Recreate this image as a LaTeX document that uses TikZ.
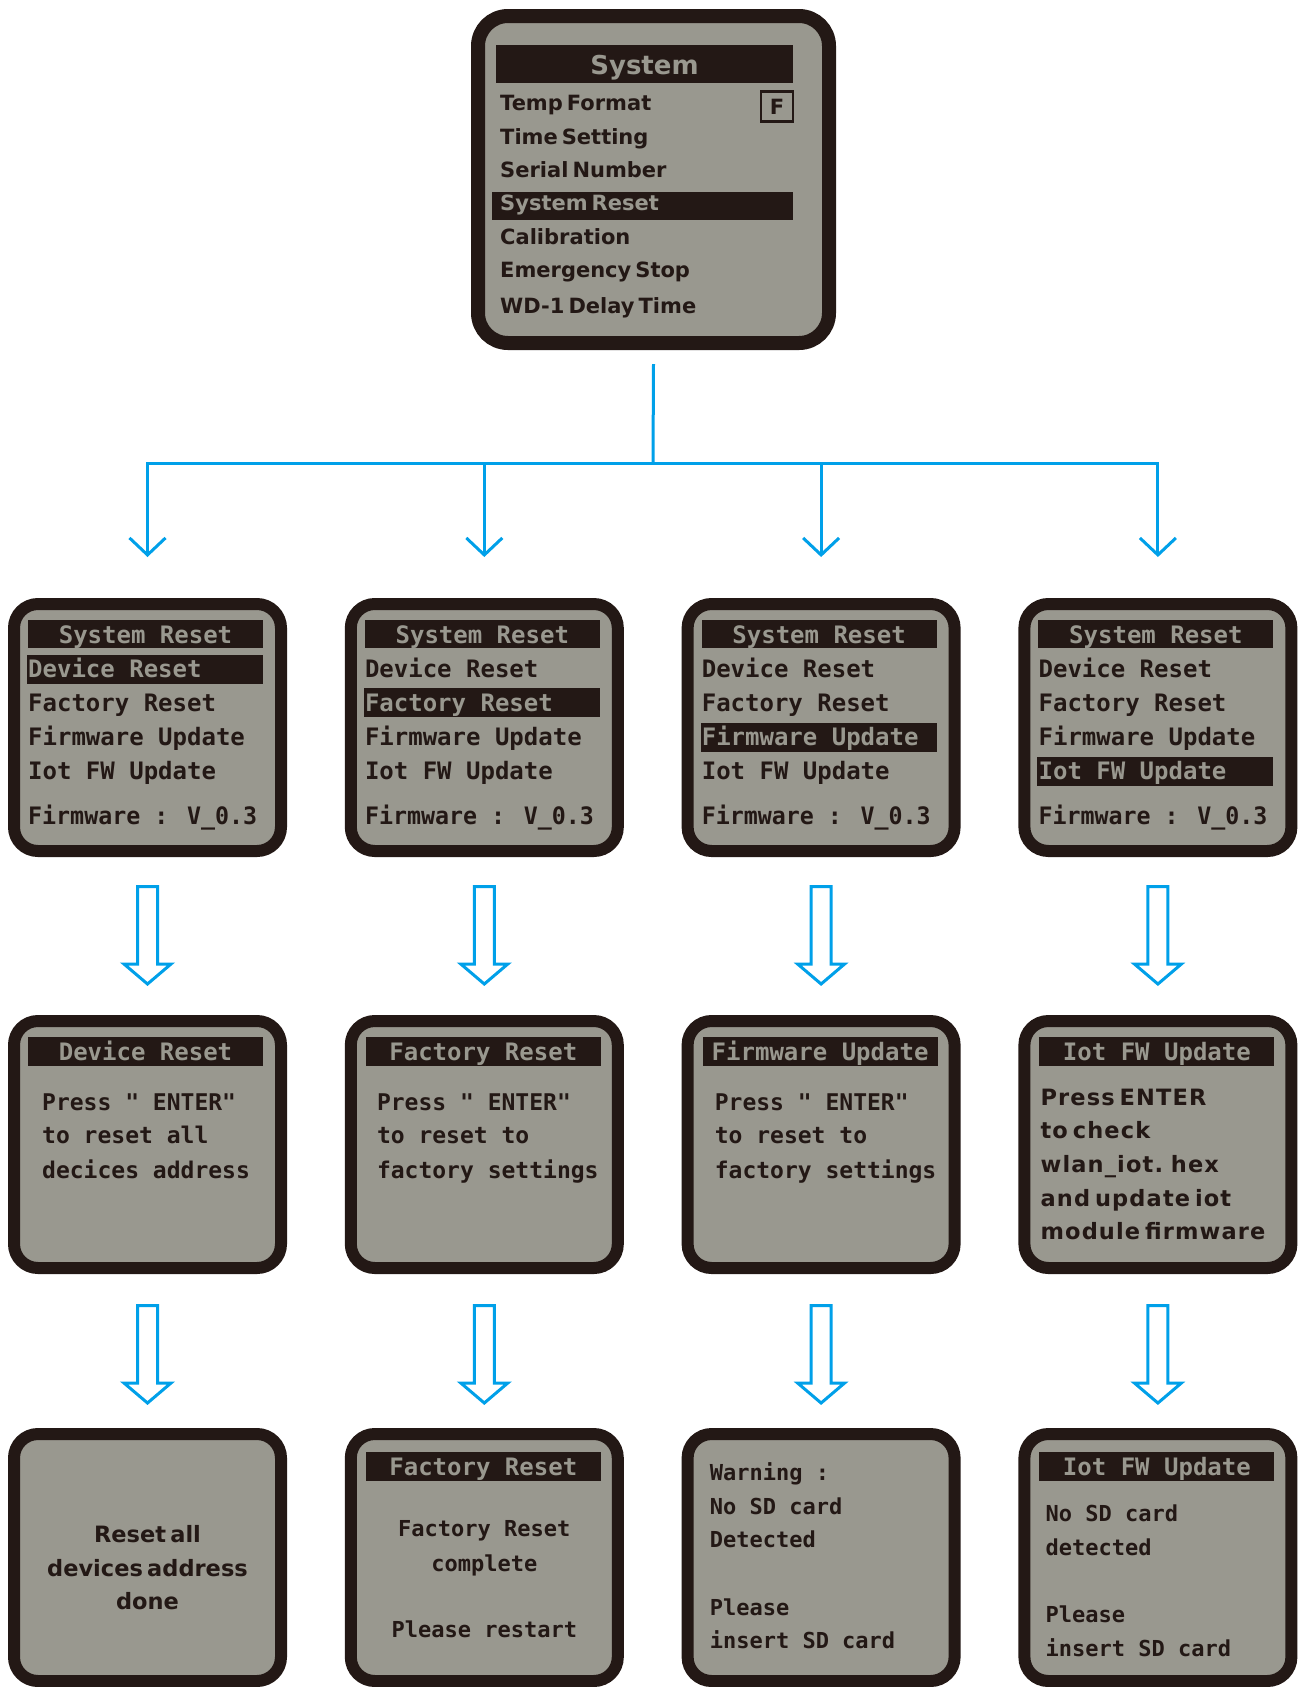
\documentclass[tikz,border=0pt]{standalone}
\usepackage{fontspec}
\usetikzlibrary{arrows.meta,calc}
\newfontfamily\lcdmono{DejaVu Sans Mono Bold}
\newfontfamily\lcdsans[WordSpace=0.55]{DejaVu Sans}
\newfontfamily\lcdsanswide[WordSpace=0.55,LetterSpace=5]{DejaVu Sans}
\definecolor{lcdgrey}{RGB}{153,152,143}
\definecolor{lcdink}{RGB}{35,24,21}
\definecolor{flowblue}{RGB}{0,160,233}

\tikzset{
  screen/.style={draw=lcdink, fill=lcdgrey, line width=12pt, rounded corners=24pt,
    minimum width=267pt, minimum height=247pt, inner sep=0pt},
  bigscreen/.style={screen, line width=14pt, rounded corners=30pt,
    minimum width=351pt, minimum height=327pt},
  mono/.style={font=\lcdmono\fontsize{24}{24}\selectfont, text=lcdink,
    inner sep=0pt, anchor=base west},
  monomid/.style={font=\lcdmono\fontsize{23}{23}\selectfont, text=lcdink,
    inner sep=0pt, anchor=base west},
  monosmall/.style={font=\lcdmono\fontsize{22}{22}\selectfont, text=lcdink,
    inner sep=0pt, anchor=base west},
  prop/.style={font=\lcdsans\bfseries\fontsize{21}{21}\selectfont, text=lcdink,
    inner sep=0pt, anchor=base west},
  propbig/.style={font=\lcdsans\bfseries\fontsize{22.5}{22.5}\selectfont, text=lcdink,
    inner sep=0pt, anchor=base west},
  propwide/.style={font=\lcdsanswide\bfseries\fontsize{22.5}{22.5}\selectfont, text=lcdink,
    inner sep=0pt, anchor=base west},
  lit/.style={text=lcdgrey},
  mid/.style={anchor=base},
  trunk/.style={draw=flowblue, line width=3pt},
  conn/.style={draw=flowblue, line width=3pt, -{Straight Barb[length=17pt,width=36pt]}},
  hollow/.style={draw=flowblue, fill=white, line width=3pt, line join=miter},
  downblock/.pic={
    \draw[hollow] (-10,1.5) -- (-10,79) -- (-23.5,79) -- (0,99) -- (23.5,79)
      -- (10,79) -- (10,1.5) -- cycle;
  },
}

\begin{document}
\begin{tikzpicture}[x=1pt,y=-1pt]
\useasboundingbox (0,0) rectangle (1300,1687);

% ---------- main System menu ----------
\node[bigscreen] (sys) at (653.5,179.5) {};
\begin{scope}[shift={(471,9)}]
  \fill[lcdink] (25,36) rectangle (322,74);
  \node[prop,lit,mid,font=\lcdsans\bfseries\fontsize{26}{26}\selectfont] (sys-title) at (173.5,65.5) {System};
  \fill[lcdink] (21,183) rectangle (322,211);
  \node[prop] (sys-1) at (29,101.5) {Temp Format};
  \node[prop] (sys-2) at (29,135.5) {Time Setting};
  \node[prop] (sys-3) at (29,168.5) {Serial Number};
  \node[prop,lit] (sys-4) at (29,201.5) {System Reset};
  \node[prop] (sys-5) at (29,235.5) {Calibration};
  \node[prop] (sys-6) at (29,268.5) {Emergency Stop};
  \node[prop] (sys-7) at (29,304.5) {WD-1 Delay Time};
  \node[draw=lcdink, line width=2.5pt, minimum width=32pt, minimum height=30pt, inner sep=0pt,
        font=\lcdsans\bfseries\fontsize{21}{21}\selectfont, text=lcdink] (fmt) at (306,97.5) {F};
\end{scope}

% ---------- System Reset sub-menus ----------
\foreach \n in {1,2,3,4}{
  \begin{scope}[shift={({8+(\n-1)*336.8},598)}]
    \node[screen] (menu\n) at (139.5,129.5) {};
    \fill[lcdink] (20,22) rectangle (255,50);
    \node[mono,lit,mid] (menu\n-t) at (137.5,45.5) {System Reset};
    \pgfmathsetmacro\hy{{71,104.5,139,173}[\n-1]}
    \fill[lcdink] (19,\hy-14.5) rectangle (255,\hy+14.5);
    \foreach \txt/\yy [count=\k] in {Device Reset/71,Factory Reset/104.5,Firmware Update/139,Iot FW Update/173}{
      \ifnum\k=\n\relax\def\tcol{lcdgrey}\else\def\tcol{lcdink}\fi
      \node[mono,text=\tcol] (menu\n-\k) at (20,\yy+8.5) {\txt};
    }
    \node[mono] (menu\n-fw) at (20,226.5) {\scalebox{0.97}[1]{Firmware : V\_0.3}};
  \end{scope}
}

% ---------- confirmation screens ----------
\begin{scope}[shift={(8,1015)}]
  \node[screen] (info1) at (139.5,129.5) {};
  \fill[lcdink] (20,22) rectangle (255,51);
  \node[mono,lit,mid] (info1-t) at (137.5,45.5) {Device Reset};
  \node[monomid] (info1-1) at (34,95.5) {Press " ENTER"};
  \node[monomid] (info1-2) at (34,128.5) {to reset all};
  \node[monomid] (info1-3) at (34,163.5) {decices address};
\end{scope}
\begin{scope}[shift={(344.8,1015)}]
  \node[screen] (info2) at (139.5,129.5) {};
  \fill[lcdink] (21,22) rectangle (256,51);
  \node[mono,lit,mid] (info2-t) at (138.5,45.5) {Factory Reset};
  \node[monomid] (info2-1) at (32,95.5) {Press " ENTER"};
  \node[monomid] (info2-2) at (32,128.5) {to reset to};
  \node[monomid] (info2-3) at (32,163.5) {factory settings};
\end{scope}
\begin{scope}[shift={(681.6,1015)}]
  \node[screen] (info3) at (139.5,129.5) {};
  \fill[lcdink] (21,22) rectangle (256,51);
  \node[mono,lit,mid] (info3-t) at (138.5,45.5) {Firmware Update};
  \node[monomid] (info3-1) at (33,95.5) {Press " ENTER"};
  \node[monomid] (info3-2) at (33,128.5) {to reset to};
  \node[monomid] (info3-3) at (33,163.5) {factory settings};
\end{scope}
\begin{scope}[shift={(1018.4,1015)}]
  \node[screen] (info4) at (139.5,129.5) {};
  \fill[lcdink] (21,22) rectangle (256,51);
  \node[mono,lit,mid] (info4-t) at (138.5,45.5) {Iot FW Update};
  \node[propwide] (info4-1) at (22,90) {Press ENTER};
  \node[propwide] (info4-2) at (22,123) {to check};
  \node[propwide] (info4-3) at (22,157) {wlan\_iot. hex};
  \node[propwide] (info4-4) at (22,191) {and update iot};
  \node[propwide] (info4-5) at (22,224) {module firmware};
\end{scope}

% ---------- result screens ----------
\begin{scope}[shift={(8,1428)}]
  \node[screen] (done1) at (139.5,129.5) {};
  \node[propbig,mid] (done1-1) at (139.5,114) {Reset all};
  \node[propbig,mid] (done1-2) at (139.5,148) {devices address};
  \node[propbig,mid] (done1-3) at (139.5,181) {done};
\end{scope}
\begin{scope}[shift={(344.8,1428)}]
  \node[screen] (done2) at (139.5,129.5) {};
  \fill[lcdink] (21,24) rectangle (256,53);
  \node[mono,lit,mid] (done2-t) at (138.5,47.5) {Factory Reset};
  \node[monosmall,mid] (done2-1) at (139.5,108) {Factory Reset};
  \node[monosmall,mid] (done2-2) at (139.5,143) {complete};
  \node[monosmall,mid] (done2-3) at (139.5,209) {Please restart};
\end{scope}
\begin{scope}[shift={(681.6,1428)}]
  \node[screen] (done3) at (139.5,129.5) {};
  \node[monosmall] (done3-1) at (28,52) {Warning :};
  \node[monosmall] (done3-2) at (28,86) {No SD card};
  \node[monosmall] (done3-3) at (28,119) {Detected};
  \node[monosmall] (done3-4) at (28,187) {Please};
  \node[monosmall] (done3-5) at (28,220) {insert SD card};
\end{scope}
\begin{scope}[shift={(1018.4,1428)}]
  \node[screen] (done4) at (139.5,129.5) {};
  \fill[lcdink] (21,24) rectangle (256,53);
  \node[mono,lit,mid] (done4-t) at (138.5,47.5) {Iot FW Update};
  \node[monosmall] (done4-1) at (27,93) {No SD card};
  \node[monosmall] (done4-2) at (27,127) {detected};
  \node[monosmall] (done4-3) at (27,194) {Please};
  \node[monosmall] (done4-4) at (27,228) {insert SD card};
\end{scope}

% ---------- connectors ----------
\coordinate (split) at (653,463);
\draw[trunk] ($(sys.south)+(0,14)$) -- (split);
\foreach \k in {1,2,3,4}{
  \draw[conn] (split) -| ($(menu\k.north)+(0,-41)$);
  \pic at ($(menu\k.south)+(0,28)$) {downblock};
  \pic at ($(info\k.south)+(0,30)$) {downblock};
}
\end{tikzpicture}
\end{document}
